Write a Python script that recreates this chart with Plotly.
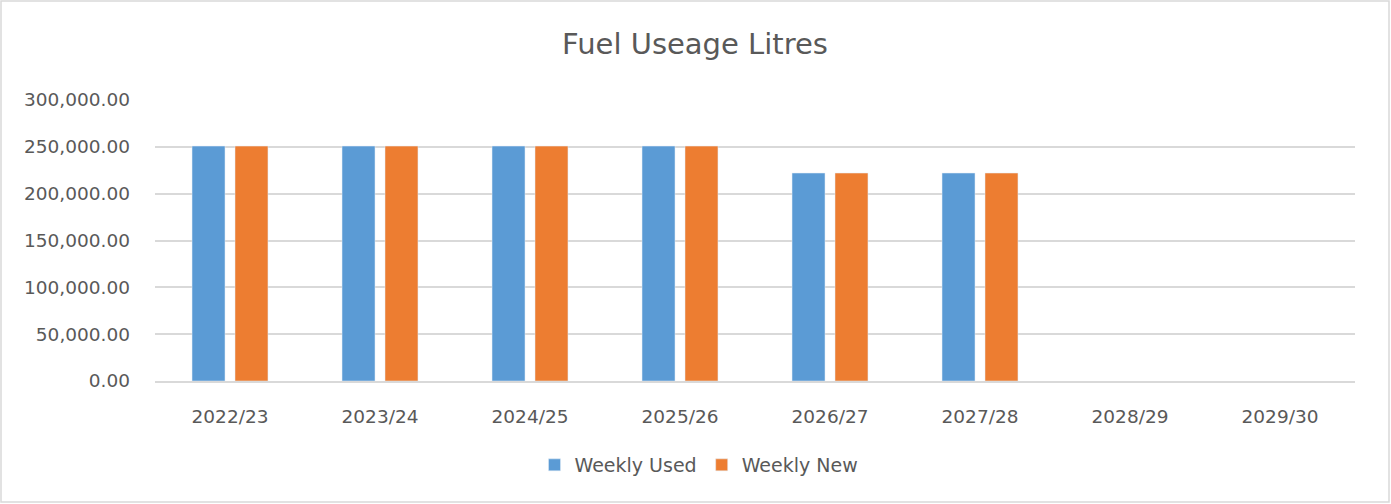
import plotly.graph_objects as go

categories = ["2022/23", "2023/24", "2024/25", "2025/26", "2026/27", "2027/28", "2028/29", "2029/30"]
weekly_used = [250800, 250800, 250800, 250800, 222000, 222000, None, None]
weekly_new = [250800, 250800, 250800, 250800, 222000, 222000, None, None]
y_ticks = [0, 50000, 100000, 150000, 200000, 250000, 300000]

W, H = 1391, 504
L, R, T, B = 155, 36, 100, 123
pw, ph = W - L - R, H - T - B

def px_x(x):
    return (x - L) / pw

def px_y(y):
    return (H - B - y) / ph

FONT = "DejaVu Sans, sans-serif"
GREY = "#595959"

fig = go.Figure()
fig.add_trace(go.Bar(x=categories, y=weekly_used, name="Weekly Used", marker_color="#5B9BD5"))
fig.add_trace(go.Bar(x=categories, y=weekly_new, name="Weekly New", marker_color="#ED7D31"))

fig.update_layout(
    width=W, height=H,
    margin=dict(l=L, r=R, t=T, b=B),
    paper_bgcolor="white", plot_bgcolor="white",
    barmode="group", bargap=0.427, bargroupgap=0.233,
    title=dict(text="Fuel Useage Litres", x=695 / W, xanchor="center", y=1 - 44 / H, yanchor="middle",
               xref="container", yref="container",
               font=dict(family=FONT, size=29, color=GREY)),
    font=dict(family=FONT, color=GREY),
    legend=dict(orientation="h", x=px_x(699), xanchor="center", y=px_y(465), yanchor="middle",
                font=dict(family=FONT, size=19, color=GREY), itemwidth=30, bgcolor="rgba(0,0,0,0)"),
    xaxis=dict(showgrid=False, showline=True, linecolor="#d9d9d9", linewidth=1.5,
               tickfont=dict(family=FONT, size=18.5, color=GREY), ticks="", ticklabelstandoff=18),
    yaxis=dict(range=[0, 300000], tickvals=y_ticks, tickformat=",.2f", showgrid=True,
               gridcolor="#d9d9d9", gridwidth=1.5, zeroline=False, showline=False,
               tickfont=dict(family=FONT, size=18.5, color=GREY), ticks="", ticklabelstandoff=24),
    shapes=[dict(type="rect", xref="paper", yref="paper",
                 x0=px_x(1), x1=px_x(1389), y0=px_y(502), y1=px_y(1),
                 line=dict(color="#d9d9d9", width=1.5), fillcolor="rgba(0,0,0,0)", layer="below")],
)

fig.write_html("out.html", config={"displayModeBar": False},
               post_script="document.body.style.margin='0';document.body.style.overflow='hidden';")
